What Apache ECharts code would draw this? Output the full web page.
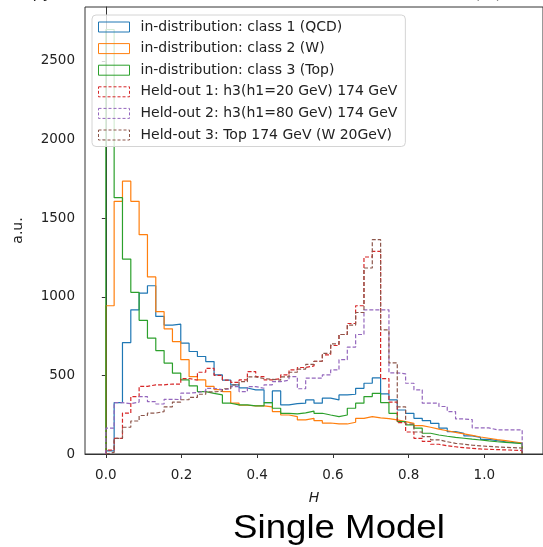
<!DOCTYPE html>
<html>
<head>
<meta charset="utf-8">
<script src="https://cdn.jsdelivr.net/npm/echarts@6.0.0/dist/echarts.min.js"></script>
<style>
html,body{margin:0;padding:0;background:#fff;}
#main{width:543px;height:547px;}
</style>
</head>
<body>
<div id="main"></div>
<script>
// histogram: 50 bins of width 0.022 from H=0 to H=1.1
var binWidth = 0.022;
var xTicks = [0, 0.2, 0.4, 0.6, 0.8, 1.0];
var yTicks = [0, 500, 1000, 1500, 2000, 2500];

var seriesNames = [
  'in-distribution: class 1 (QCD)',
  'in-distribution: class 2 (W)',
  'in-distribution: class 3 (Top)',
  'Held-out 1: h3(h1=20 GeV) 174 GeV',
  'Held-out 2: h3(h1=80 GeV) 174 GeV',
  'Held-out 3: Top 174 GeV (W 20GeV)'
];
var colors = ['#1f77b4', '#ff7f0e', '#2ca02c', '#d62728', '#9467bd', '#8c564b'];

var qcd = [20, 327, 709, 917, 1023, 1070, 875, 820, 826, 705,
  652, 620, 588, 503, 470, 440, 420, 408, 408, 327,
  401, 312, 320, 323, 344, 323, 355, 344, 376, 380,
  418, 450, 484, 382, 344, 280, 259, 227, 212, 195,
  164, 142, 132, 115, 106, 93, 85, 78, 72, 70];
var wBoson = [943, 1607, 1735, 1607, 1395, 1126, 905, 796, 715, 600,
  492, 471, 430, 410, 397, 323, 310, 306, 306, 300,
  270, 248, 238, 217, 227, 212, 197, 191, 191, 202,
  227, 238, 230, 225, 217, 206, 195, 180, 170, 158,
  148, 138, 128, 118, 108, 100, 92, 85, 78, 70];
var top3 = [2700, 1630, 1240, 1028, 850, 737, 658, 578, 514, 471,
  433, 397, 386, 376, 323, 312, 312, 306, 306, 327,
  291, 259, 255, 262, 273, 259, 248, 238, 248, 291,
  323, 365, 386, 327, 259, 206, 185, 164, 132, 121,
  113, 106, 100, 94, 89, 83, 78, 74, 70, 66];
var heldOut1 = [25, 100, 260, 365, 430, 440, 440, 445, 445, 480,
  470, 520, 545, 500, 470, 455, 471, 524, 492, 471,
  480, 503, 535, 550, 560, 590, 630, 690, 760, 830,
  943, 1253, 1289, 480, 330, 200, 140, 100, 80, 62,
  52, 46, 40, 36, 32, 30, 28, 26, 24, 22];
var heldOut2 = [164, 327, 320, 330, 365, 333, 318, 348, 346, 387,
  391, 400, 418, 410, 415, 429, 397, 429, 418, 440,
  460, 470, 492, 415, 482, 482, 503, 535, 600, 680,
  760, 917, 917, 917, 516, 510, 450, 408, 323, 323,
  302, 270, 223, 219, 166, 166, 154, 154, 154, 154];
var heldOut3 = [10, 100, 170, 210, 245, 260, 270, 300, 330, 345,
  360, 380, 395, 400, 415, 440, 460, 490, 480, 475,
  470, 490, 520, 540, 570, 590, 640, 700, 760, 820,
  900, 1183, 1363, 790, 580, 300, 190, 140, 110, 90,
  78, 68, 62, 56, 52, 48, 45, 42, 40, 38];

var allCounts = [qcd, wBoson, top3, heldOut1, heldOut2, heldOut3];

// outline of a step histogram: up at the first edge, down at the last
function stepData(counts) {
  var pts = [[0, 0]];
  for (var i = 0; i < counts.length; i++) {
    pts.push([+(i * binWidth).toFixed(4), counts[i]]);
  }
  pts.push([+(counts.length * binWidth).toFixed(4), 0]);
  return pts;
}

var chart = echarts.init(document.getElementById('main'));

var series = allCounts.map(function (counts, k) {
  return {
    name: seriesNames[k],
    type: 'line',
    step: 'end',
    symbol: 'none',
    data: stepData(counts),
    lineStyle: {
      color: colors[k],
      width: 1.2,
      type: k < 3 ? 'solid' : [4, 2]
    },
    itemStyle: {color: colors[k]}
  };
});

var option = {
  animation: false,
  backgroundColor: '#fff',
  textStyle: {fontFamily: 'DejaVu Sans'},
  grid: {
    left: 85, right: -1, top: 7, bottom: 93,
    show: true, borderColor: '#333', borderWidth: 1
  },
  legend: {
    orient: 'vertical',
    left: 92, top: 15,
    padding: [4.5, 8, 4, 6],
    itemGap: 6.6,
    itemWidth: 31, itemHeight: 10,
    backgroundColor: 'rgba(255,255,255,0.8)',
    borderColor: '#d4d4d4', borderWidth: 1, borderRadius: 4,
    textStyle: {fontSize: 14, lineHeight: 15, color: '#222', padding: [0, 0, 0, 6]},
    data: seriesNames.map(function (n, k) {
      return {
        name: n, icon: 'rect',
        itemStyle: {
          color: 'rgba(0,0,0,0)', borderColor: colors[k], borderWidth: 1,
          borderType: k < 3 ? 'solid' : [3, 2]
        }
      };
    })
  },
  xAxis: {
    type: 'value',
    min: -0.055, max: 1.155,
    name: 'H',
    nameLocation: 'middle', nameGap: 37,
    nameTextStyle: {fontStyle: 'italic', fontSize: 14, color: '#222'},
    axisLine: {show: true, lineStyle: {color: '#333'}},
    axisTick: {show: true, length: 4, customValues: xTicks, lineStyle: {color: '#333'}},
    axisLabel: {
      customValues: xTicks, margin: 14, fontSize: 13.5, color: '#222',
      formatter: function (v) { return v.toFixed(1); }
    },
    splitLine: {show: false}
  },
  yAxis: {
    type: 'value',
    min: 0, max: 2843,
    name: 'a.u.',
    nameLocation: 'middle', nameGap: 60, nameRotate: 90,
    nameTextStyle: {fontSize: 14, color: '#222'},
    axisLine: {show: true, lineStyle: {color: '#333'}},
    axisTick: {show: true, length: 4, customValues: yTicks, lineStyle: {color: '#333'}},
    axisLabel: {
      customValues: yTicks, margin: 10, fontSize: 13.5, color: '#222',
      formatter: function (v) { return String(v); }
    },
    splitLine: {show: false}
  },
  graphic: [
    {type: 'text', right: 491, top: -14, style: {text: 'Entropy', font: '16px DejaVu Sans', fill: '#222'}},
    {type: 'text', left: 474, top: -14, style: {text: '(%)', font: '16px DejaVu Sans', fill: '#222'}},
    {type: 'text', x: 339, y: 512, scaleX: 1.11, originX: 0, style: {
      text: 'Single Model', font: '33px Liberation Sans', fill: '#000', align: 'center'
    }}
  ],
  series: series
};

chart.setOption(option);
</script>
</body>
</html>
